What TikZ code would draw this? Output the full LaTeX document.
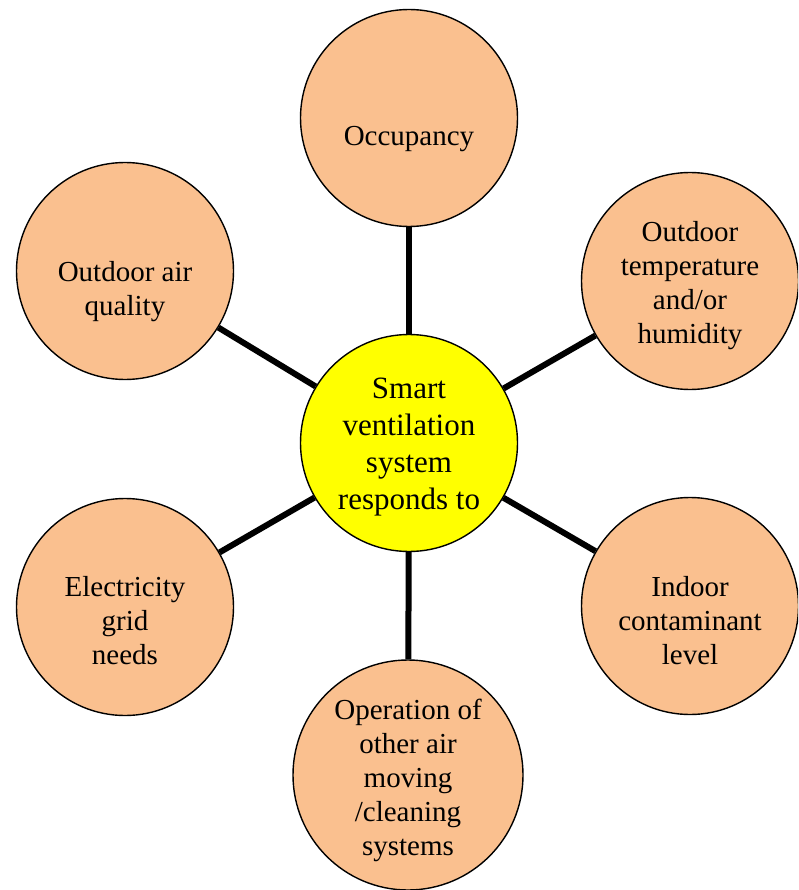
\documentclass[tikz,border=0pt]{standalone}
\usepackage{fontspec}
\setmainfont{Liberation Serif}
\definecolor{peach}{RGB}{250,192,143}
\definecolor{hubyellow}{RGB}{255,255,0}
\begin{document}
\begin{tikzpicture}[x=1pt, y=-1pt,
  factor/.style={circle, draw, line width=1.4pt, fill=peach, minimum size=217pt, inner sep=0pt},
  hub/.style={circle, draw, line width=1.4pt, fill=hubyellow, minimum size=217pt, inner sep=0pt},
  txt/.style={align=center, font=\fontsize{29}{34}\selectfont},
  hubtxt/.style={align=center, font=\fontsize{31}{37}\selectfont},
  link/.style={line width=6pt}]
\useasboundingbox (0,0) rectangle (798,890);
\clip (0,0) rectangle (798,890);

\node[hub] (ctr) at (409,443){};
\node[hubtxt] (ctr-t) at (409,447){Smart\\ventilation\\system\\responds to};

\node[factor] (occ) at (409,118){};
\node[txt] (occ-t) at (409,139){Occupancy};

\node[factor] (temp) at (690,281){};
\node[txt] (temp-t) at (690,286){Outdoor\\temperature\\and/or\\humidity};

\node[factor] (contam) at (690,606){};
\node[txt] (contam-t) at (690,621){Indoor\\contaminant\\level};

\node[factor, minimum size=230pt] (ops) at (408,775){};
\node[txt] (ops-t) at (408,780){Operation of\\other air\\moving\\/cleaning\\systems};

\node[factor] (grid) at (125,607){};
\node[txt] (grid-t) at (125,621){Electricity\\grid\\needs};

\node[factor] (air) at (125,271){};
\node[txt] (air-t) at (125,292){Outdoor air\\quality};

\draw[link](ctr) -- (occ);
\draw[link](ctr) -- (temp);
\draw[link](ctr) -- (contam);
\draw[link](ctr) -- (ops);
\draw[link](ctr) -- (grid);
\draw[link](ctr) -- (air);

\end{tikzpicture}
\end{document}
